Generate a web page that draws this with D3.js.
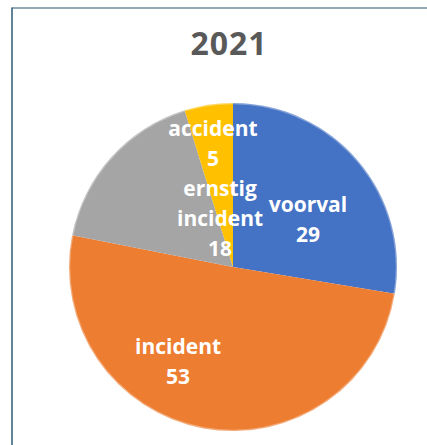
<!DOCTYPE html>
<html>
  <head>
    <meta charset="utf-8">
    <title>2021</title>
    <script src="https://d3js.org/d3.v7.min.js"></script>
    <style>
      body { margin: 0; background: #fff; }
      #chart { display: block; }
      .label { fill: #fff; font-family: "Open Sans", sans-serif; font-weight: 700; font-size: 21px; }
      #title { fill: #595959; font-family: "Open Sans", sans-serif; font-weight: 700; font-size: 32px; }
    </style>
  </head>
  <body>
    <svg id="chart" width="427" height="445"></svg>
    <script>
      // data
      var year = "2021";
      var categories = ["voorval", "incident", "ernstig incident", "accident"];
      var values = [29, 53, 18, 5];
      var colors = ["#4472c4", "#ed7d31", "#a5a5a5", "#ffc000"];

      // label anchors, as fractions of the radius from the centre (first baseline)
      var labelAt = [[0.457, -0.335], [-0.335, 0.530], [-0.079, -0.433], [-0.122, -0.799]];
      var lineStep = 30;

      var chart = d3.select("#chart");
      var cx = 233, cy = 267, radius = 164;

      // frame
      chart.append("line")
        .attr("x1", 12).attr("y1", 8).attr("x2", 427).attr("y2", 8)
        .attr("stroke", "#6f8c9c").attr("stroke-width", 1.5);
      chart.append("line")
        .attr("x1", 12).attr("y1", 7.5).attr("x2", 12).attr("y2", 445)
        .attr("stroke", "#2e5a70").attr("stroke-width", 1.5);

      chart.append("text")
        .attr("id", "title")
        .attr("x", 229)
        .attr("y", 55)
        .attr("text-anchor", "middle")
        .style("letter-spacing", "1px")
        .text(year);

      var pie = d3.pie().sort(null).value(function(d) { return d; });
      var arc = d3.arc().innerRadius(0).outerRadius(radius);
      var slices = pie(values);

      var pieGroup = chart.append("g")
        .attr("transform", "translate(" + cx + "," + cy + ")");

      pieGroup.selectAll(".slice")
          .data(slices)
        .enter().append("path")
          .classed("slice", true)
          .attr("d", arc)
          .attr("fill", function(d, i) { return colors[i]; });

      // soft rim like the original
      pieGroup.append("circle")
        .attr("r", radius - 0.5)
        .attr("fill", "none")
        .attr("stroke", "#ffffff")
        .attr("stroke-opacity", 0.35)
        .attr("stroke-width", 1.5);

      var labels = pieGroup.selectAll(".label")
          .data(slices)
        .enter().append("text")
          .classed("label", true)
          .attr("text-anchor", "middle")
          .attr("transform", function(d, i) {
            return "translate(" + labelAt[i][0] * radius + "," + labelAt[i][1] * radius + ")";
          });

      labels.each(function(d, i) {
        var lines = categories[i].split(" ").concat([String(values[i])]);
        d3.select(this).selectAll("tspan")
            .data(lines)
          .enter().append("tspan")
            .attr("x", 0)
            .attr("y", function(l, j) { return j * lineStep; })
            .text(function(l) { return l; });
      });
    </script>
  </body>
</html>
